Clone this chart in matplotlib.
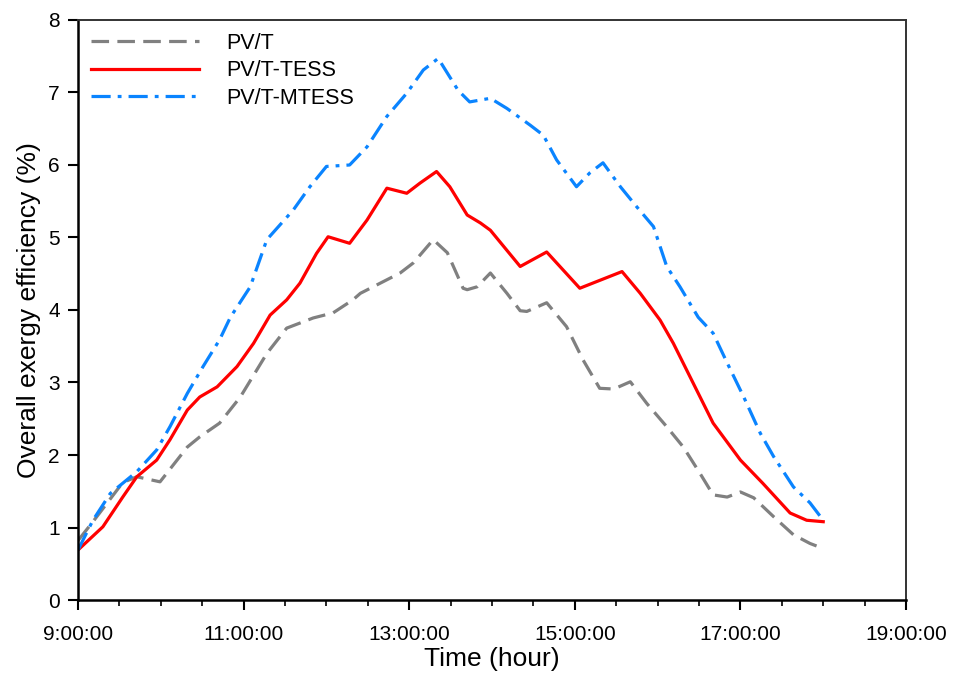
import matplotlib
matplotlib.use("Agg")
import matplotlib.pyplot as plt
from matplotlib.ticker import MultipleLocator, FixedLocator

plt.rcParams['font.family'] = ['Liberation Sans', 'DejaVu Sans']

# Time in decimal hours, values in %
t_pvt = [9.0, 9.18, 9.54, 9.71, 9.99, 10.32, 10.47, 10.71, 10.96, 11.28, 11.52, 11.84,
         12.08, 12.32, 12.41, 12.89, 13.05, 13.29, 13.46, 13.65, 13.70, 13.82, 13.98,
         14.18, 14.34, 14.42, 14.66, 14.90, 15.10, 15.30, 15.47, 15.67, 15.87, 16.11,
         16.31, 16.51, 16.67, 16.84, 17.0, 17.16, 17.40, 17.64, 17.84, 18.0]
v_pvt = [0.82, 1.08, 1.62, 1.70, 1.63, 2.11, 2.25, 2.44, 2.80, 3.40, 3.75, 3.89,
         3.96, 4.14, 4.23, 4.51, 4.65, 4.97, 4.79, 4.30, 4.28, 4.32, 4.51,
         4.23, 3.99, 3.98, 4.10, 3.77, 3.31, 2.92, 2.91, 3.01, 2.71, 2.39,
         2.11, 1.75, 1.45, 1.42, 1.49, 1.41, 1.15, 0.90, 0.78, 0.71]

t_tess = [9.0, 9.30, 9.54, 9.71, 9.95, 10.11, 10.32, 10.47, 10.68, 10.92, 11.12, 11.32,
          11.52, 11.68, 11.88, 12.02, 12.28, 12.49, 12.73, 12.97, 13.13, 13.33, 13.49,
          13.70, 13.86, 13.98, 14.34, 14.66, 15.06, 15.57, 15.79, 16.03, 16.19, 16.43,
          16.67, 17.0, 17.27, 17.60, 17.80, 18.0]
v_tess = [0.69, 1.01, 1.42, 1.70, 1.93, 2.21, 2.62, 2.80, 2.94, 3.22, 3.54, 3.93,
          4.14, 4.37, 4.78, 5.01, 4.92, 5.24, 5.68, 5.61, 5.75, 5.91, 5.70,
          5.31, 5.20, 5.10, 4.60, 4.80, 4.30, 4.53, 4.23, 3.86, 3.54, 2.99,
          2.44, 1.93, 1.61, 1.20, 1.10, 1.08]

t_mtess = [9.0, 9.18, 9.39, 9.71, 9.95, 10.11, 10.32, 10.51, 10.71, 10.84, 11.08, 11.28,
           11.60, 11.80, 12.0, 12.28, 12.49, 12.73, 12.97, 13.17, 13.35, 13.59, 13.73,
           13.98, 14.18, 14.46, 14.62, 14.78, 15.02, 15.18, 15.34, 15.55, 15.75, 15.95,
           16.11, 16.27, 16.49, 16.67, 16.84, 17.04, 17.24, 17.40, 17.64, 17.84, 18.0]
v_mtess = [0.69, 1.10, 1.47, 1.77, 2.07, 2.39, 2.85, 3.22, 3.59, 3.90, 4.32, 4.97,
           5.38, 5.70, 5.98, 6.00, 6.25, 6.67, 6.99, 7.31, 7.47, 7.03, 6.87,
           6.92, 6.78, 6.55, 6.41, 6.07, 5.70, 5.89, 6.03, 5.70, 5.42, 5.15,
           4.60, 4.32, 3.90, 3.68, 3.27, 2.80, 2.30, 1.98, 1.56, 1.34, 1.10]

labels = ['PV/T', 'PV/T-TESS', 'PV/T-MTESS']
x_ticks = [9, 11, 13, 15, 17, 19]
x_tick_labels = ['9:00:00', '11:00:00', '13:00:00', '15:00:00', '17:00:00', '19:00:00']
y_ticks = [0, 1, 2, 3, 4, 5, 6, 7, 8]

fig = plt.figure(figsize=(9.61, 6.75), dpi=100)
ax = fig.add_axes([0.0812, 0.1111, 0.8616, 0.8593])

common = dict(lw=2.3, solid_joinstyle='round', dash_joinstyle='round')
ax.plot(t_pvt, v_pvt, color='#808080', dashes=(5.5, 2.6), label=labels[0], **common)
ax.plot(t_tess, v_tess, color='#ff0000', label=labels[1], **common)
ax.plot(t_mtess, v_mtess, color='#0a84ff', dashes=(6.0, 2.2, 1.2, 2.2), label=labels[2], **common)

ax.set_xlim(9, 19)
ax.set_ylim(0, 8)
ax.xaxis.set_major_locator(FixedLocator(x_ticks))
ax.set_xticklabels(x_tick_labels)
ax.xaxis.set_minor_locator(MultipleLocator(0.5))
ax.set_yticks(y_ticks)

ax.tick_params(axis='both', which='major', direction='out', length=7, width=1.5, labelsize=15)
ax.tick_params(axis='x', which='major', pad=11)
ax.tick_params(axis='y', which='major', pad=6)
ax.tick_params(axis='x', which='minor', direction='out', length=4, width=1.2)
for side in ['left', 'bottom']:
    ax.spines[side].set_linewidth(1.8)
for side in ['top', 'right']:
    ax.spines[side].set_linewidth(1.4)
    ax.spines[side].set_color('#333333')

ax.set_xlabel('Time (hour)', fontsize=19, labelpad=2)
ax.set_ylabel('Overall exergy efficiency (%)', fontsize=19, labelpad=5)

ax.legend(loc='upper left', frameon=False, fontsize=15.5, handlelength=5.0,
          handletextpad=1.3, labelspacing=0.3, borderaxespad=0.2,
          bbox_to_anchor=(0.0, 1.0))

fig.savefig('out.png', dpi=100)
